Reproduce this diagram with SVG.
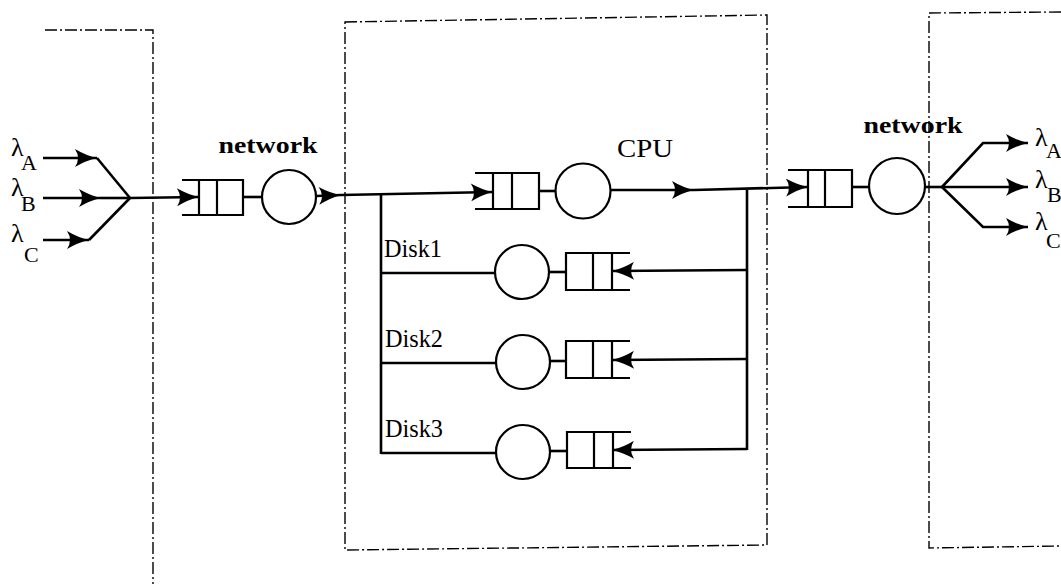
<svg xmlns="http://www.w3.org/2000/svg" width="1061" height="584" viewBox="0 0 1061 584">
<style>
.box{fill:none;stroke:#000;stroke-width:1.4;stroke-dasharray:12 3 2 3}
.ln{fill:none;stroke:#000;stroke-width:2.6}
.q{fill:none;stroke:#000;stroke-width:2.2}
.c{fill:#fff;stroke:#000;stroke-width:2.2}
.t{font-family:"Liberation Serif",serif;fill:#000}
.nw{font-family:"Liberation Serif",serif;font-weight:bold;font-size:23px;fill:#000}
.lam{font-family:"Liberation Serif",serif;font-size:26px;fill:#000}
.sub{font-family:"Liberation Serif",serif;font-size:22px;fill:#000}
</style>
<defs>
<marker id="ah" markerWidth="24" markerHeight="18" refX="23" refY="9" orient="auto" markerUnits="userSpaceOnUse">
<path d="M23,9 Q12,6.5 1,0 Q7,9 1,18 Q12,11.5 23,9 Z" fill="#000"/>
</marker>
</defs>
<rect width="1061" height="584" fill="#fff"/>
<g id="boxes">
<polyline class="box" points="45,30 153,30 153,584"/>
<polygon class="box" points="345,22 767,15 767,545 345,550"/>
<polyline class="box" points="1061,12 929,13 929,548 1061,546"/>
</g>
<g id="connectors">
<line class="ln" x1="43" y1="158" x2="97" y2="158" marker-end="url(#ah)"/>
<line class="ln" x1="97" y1="158" x2="130" y2="198"/>
<line class="ln" x1="43" y1="198" x2="101" y2="198" marker-end="url(#ah)"/>
<line class="ln" x1="101" y1="198" x2="130" y2="198"/>
<line class="ln" x1="43" y1="240" x2="89" y2="240" marker-end="url(#ah)"/>
<line class="ln" x1="89" y1="240" x2="130" y2="198"/>
<line class="ln" x1="130" y1="198" x2="199" y2="197" marker-end="url(#ah)"/>
<line class="ln" x1="243" y1="197" x2="262" y2="197"/>
<line class="ln" x1="316" y1="196" x2="341" y2="195" marker-end="url(#ah)"/>
<line class="ln" x1="341" y1="195" x2="493" y2="192" marker-end="url(#ah)"/>
<line class="ln" x1="539" y1="191" x2="556" y2="191"/>
<line class="ln" x1="611" y1="190" x2="694" y2="190" marker-end="url(#ah)"/>
<line class="ln" x1="694" y1="190" x2="808" y2="187" marker-end="url(#ah)"/>
<line class="ln" x1="852" y1="187" x2="870" y2="187"/>
<line class="ln" x1="925" y1="187" x2="942" y2="187"/>
<polyline class="ln" points="942,187 983,143 1028,143" marker-end="url(#ah)"/>
<line class="ln" x1="942" y1="187" x2="1028" y2="187" marker-end="url(#ah)"/>
<polyline class="ln" points="942,187 983,227 1028,227" marker-end="url(#ah)"/>
<line class="ln" x1="381" y1="194" x2="381" y2="454"/>
<line class="ln" x1="381" y1="273" x2="495" y2="273"/>
<line class="ln" x1="381" y1="363" x2="496" y2="363"/>
<line class="ln" x1="381" y1="453" x2="496" y2="453"/>
<line class="ln" x1="747" y1="190" x2="747" y2="450"/>
<line class="ln" x1="747" y1="270" x2="612" y2="271" marker-end="url(#ah)"/>
<line class="ln" x1="747" y1="359" x2="612" y2="360" marker-end="url(#ah)"/>
<line class="ln" x1="747" y1="449" x2="612" y2="450" marker-end="url(#ah)"/>
<line class="ln" x1="549" y1="272" x2="566" y2="272"/>
<line class="ln" x1="550" y1="361" x2="566" y2="361"/>
<line class="ln" x1="550" y1="451" x2="567" y2="451"/>
</g>
<g id="inputs">
<text class="lam" x="11" y="156">λ</text><text class="sub" x="21" y="170">A</text>
<text class="lam" x="11" y="196">λ</text><text class="sub" x="21" y="211">B</text>
<text class="lam" x="11" y="242">λ</text><text class="sub" x="24" y="262">C</text>
</g>
<g id="network1">
<text class="nw" x="268" y="153" text-anchor="middle" textLength="99" lengthAdjust="spacingAndGlyphs">network</text>
<path class="q" d="M182,180 H243 V215 H182 M199,180 V215 M217,180 V215"/>
<circle class="c" cx="289" cy="197" r="27"/>
</g>
<g id="cpu">
<text class="t" x="645" y="157" font-size="26" text-anchor="middle" textLength="56" lengthAdjust="spacingAndGlyphs">CPU</text>
<path class="q" d="M475,173 H539 V209 H475 M493,173 V209 M512,173 V209"/>
<circle class="c" cx="583" cy="191" r="27.5"/>
</g>
<g id="disk1">
<text class="t" x="384" y="257" font-size="25" textLength="58" lengthAdjust="spacingAndGlyphs">Disk1</text>
<circle class="c" cx="522" cy="272" r="27"/>
<path class="q" d="M630,253 H566 V290 H630 M593,253 V290 M612,253 V290"/>
</g>
<g id="disk2">
<text class="t" x="385" y="347" font-size="25" textLength="58" lengthAdjust="spacingAndGlyphs">Disk2</text>
<circle class="c" cx="523" cy="362" r="27"/>
<path class="q" d="M630,341 H566 V378 H630 M593,341 V378 M612,341 V378"/>
</g>
<g id="disk3">
<text class="t" x="385" y="437" font-size="25" textLength="58" lengthAdjust="spacingAndGlyphs">Disk3</text>
<circle class="c" cx="523" cy="452" r="27"/>
<path class="q" d="M631,432 H567 V468 H631 M594,432 V468 M613,432 V468"/>
</g>
<g id="network2">
<text class="nw" x="913" y="133" text-anchor="middle" textLength="99" lengthAdjust="spacingAndGlyphs">network</text>
<path class="q" d="M788,170 H852 V207 H788 M808,170 V207 M825,170 V207"/>
<circle class="c" cx="897" cy="186" r="28"/>
</g>
<g id="outputs">
<text class="lam" x="1035" y="146">λ</text><text class="sub" x="1046" y="158" font-size="18">A</text>
<text class="lam" x="1035" y="188">λ</text><text class="sub" x="1047" y="202" font-size="18">B</text>
<text class="lam" x="1035" y="230">λ</text><text class="sub" x="1046" y="248" font-size="18">C</text>
</g>
</svg>
